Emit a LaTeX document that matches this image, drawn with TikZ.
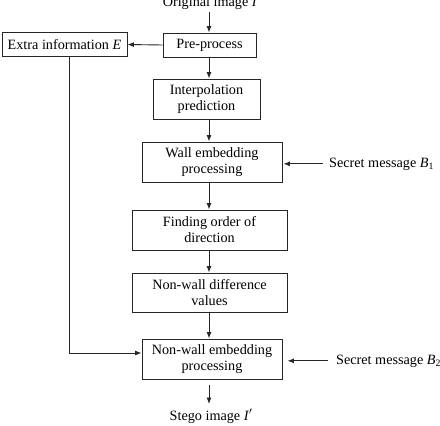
\documentclass[tikz,border=0pt]{standalone}
\usepackage{fontspec}
\setmainfont{Liberation Serif}
\usetikzlibrary{arrows.meta}
\newcommand{\subone}[1]{\raisebox{-0.35ex}{\fontsize{9.8}{10}\selectfont #1}}
\begin{document}
\begin{tikzpicture}[x=1pt,y=1pt,
  font=\fontsize{14.2}{16}\selectfont,
  boxnode/.style={draw=black!85,line width=0.9pt,rectangle,inner sep=0pt,align=center},
  txtnode/.style={inner sep=0pt},
  arr/.style={draw=black!85,line width=0.9pt,-{Latex[length=6.5pt,width=5pt]}}]
\useasboundingbox (0,0) rectangle (440,-426);
\node[txtnode,anchor=base] (orig) at (210,-6.5) {Original image \textit{I}};
\node[boxnode,minimum width=125pt,minimum height=24pt] (extra) at (64.5,-44.5) {Extra information \textit{E}};
\node[boxnode,minimum width=93pt,minimum height=24pt] (pre) at (209.5,-45) {Pre-process};
\node[boxnode,minimum width=107pt,minimum height=40pt] (interp) at (206.5,-99) {Interpolation\\prediction};
\node[boxnode,minimum width=140pt,minimum height=40pt] (wall) at (212,-162) {Wall embedding\\processing};
\node[boxnode,minimum width=155pt,minimum height=40pt] (find) at (209.5,-230) {Finding order of\\direction};
\node[boxnode,minimum width=155pt,minimum height=39pt] (diff) at (209.5,-292.5) {Non-wall difference\\values};
\node[boxnode,minimum width=140pt,minimum height=40pt] (nwe) at (212,-359) {Non-wall embedding\\processing};
\node[txtnode,anchor=base] (stego) at (211,-420) {Stego image \textit{I}$'$};
\node[txtnode,anchor=base west] (s1) at (329,-167) {Secret message \textit{B}\subone{1}};
\node[txtnode,anchor=base west] (s2) at (336,-364) {Secret message \textit{B}\subone{2}};
\coordinate (col) at (209,0);
\coordinate (lc) at (69,-353);
\draw[arr,shorten <=2pt] (orig.south -| col) -- (pre.north -| col);
\draw[arr] (pre.west) -- (extra.east);
\draw[arr] (pre.south -| col) -- (interp.north -| col);
\draw[arr] (interp.south -| col) -- (wall.north -| col);
\draw[arr] (wall.south -| col) -- (find.north -| col);
\draw[arr] (find.south -| col) -- (diff.north -| col);
\draw[arr] (diff.south -| col) -- (nwe.north -| col);
\draw[arr,shorten <=6pt,shorten >=5pt] (nwe.south -| col) -- (stego.north -| col);
\draw[arr,shorten <=6pt,shorten >=1pt] (s1.west) -- (s1.west -| wall.east);
\draw[arr,shorten <=8pt,shorten >=5pt] (s2.west) -- (s2.west -| nwe.east);
\draw[arr] (extra.south -| lc) -- (lc) -- (lc -| nwe.west);
\end{tikzpicture}
\end{document}
